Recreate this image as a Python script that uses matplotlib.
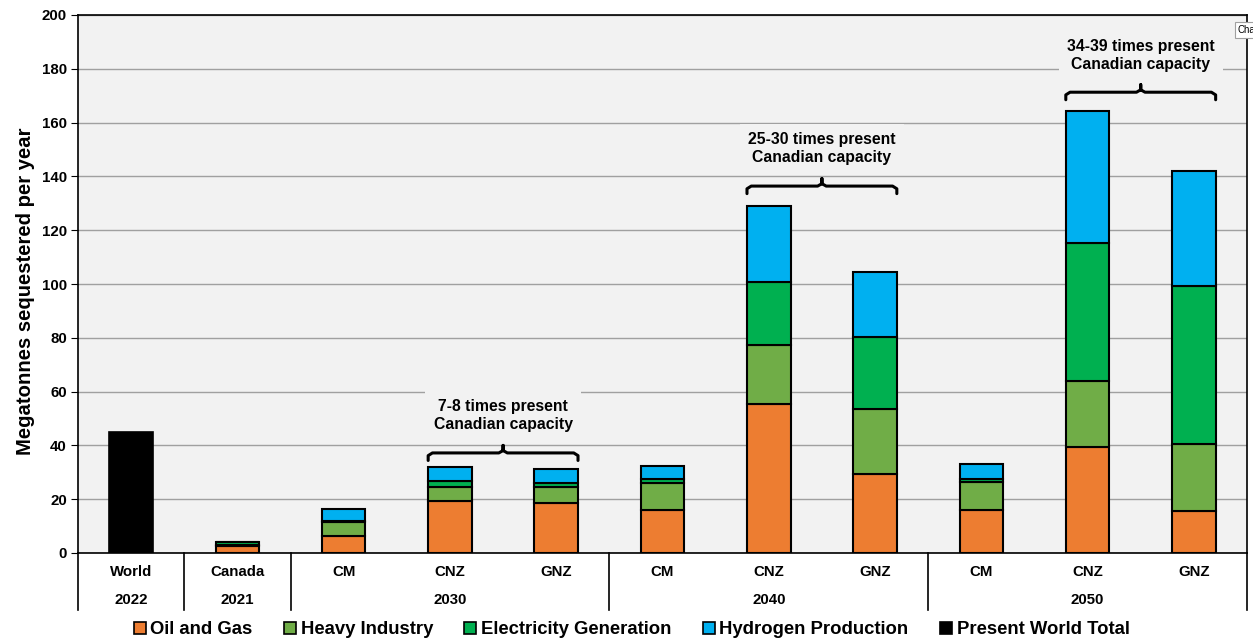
import numpy as np
import matplotlib
matplotlib.use("Agg")
import matplotlib.pyplot as plt
from matplotlib.patches import Patch
from matplotlib.transforms import blended_transform_factory

plt.rcParams['font.family'] = ['Liberation Sans', 'DejaVu Sans']
plt.rcParams['font.weight'] = 'bold'
plt.rcParams['axes.labelweight'] = 'bold'

# data (Mt CO2 sequestered per year)
categories = ['World', 'Canada', 'CM', 'CNZ', 'GNZ', 'CM', 'CNZ', 'GNZ', 'CM', 'CNZ', 'GNZ']
year_labels = ['2022', '2021', '2030', '2040', '2050']
year_pos = [0, 1, 3, 6, 9]
separators = [-0.5, 0.5, 1.5, 4.5, 7.5, 10.5]

world_total = 45.0
oil_gas = [2.7, 6.5, 19.4, 18.5, 15.8, 55.5, 29.4, 16.0, 39.5, 15.7]
heavy_industry = [0.3, 5.0, 5.3, 6.0, 10.4, 22.0, 24.1, 10.4, 24.3, 24.8]
electricity = [1.0, 0.3, 2.0, 1.5, 1.2, 23.4, 26.7, 1.1, 51.5, 58.9]
hydrogen = [0.2, 4.5, 5.2, 5.3, 4.8, 28.1, 24.1, 5.6, 48.9, 42.6]

series = ['Oil and Gas', 'Heavy Industry', 'Electricity Generation', 'Hydrogen Production']
colors = ['#ED7D31', '#70AD47', '#00B050', '#00B0F0']

# brackets: (left cat, right cat, y level, text)
brackets = [
    (3, 4, 37.2, '7-8 times present\nCanadian capacity'),
    (6, 7, 136.4, '25-30 times present\nCanadian capacity'),
    (9, 10, 171.3, '34-39 times present\nCanadian capacity'),
]

bg = '#F2F2F2'
fig = plt.figure(figsize=(12.53, 6.40), dpi=100)
ax = fig.add_axes([78 / 1253, 87 / 640, 1169 / 1253, 538 / 640])
ax.set_facecolor(bg)

w = 0.41
x = np.arange(len(categories))
ax.bar(0, world_total, w, color='black', edgecolor='black', lw=1.2, zorder=3)

bottom = np.zeros(len(oil_gas))
for vals, col in zip([oil_gas, heavy_industry, electricity, hydrogen], colors):
    ax.bar(x[1:], vals, w, bottom=bottom, color=col, edgecolor='black', lw=1.5, zorder=3)
    bottom += np.array(vals)

ax.set_xlim(-0.5, 10.5)
ax.set_ylim(0, 200)
ax.set_yticks(np.arange(0, 201, 20))
ax.tick_params(axis='y', labelsize=10.8, length=5, direction='out', pad=3)
ax.set_xticks([])
ax.yaxis.grid(True, color='#A0A0A0', lw=1, zorder=0)
for s in ax.spines.values():
    s.set_color('black')
    s.set_linewidth(1.2)
ax.set_ylabel('Megatonnes sequestered per year', fontsize=14.6)
ax.yaxis.set_label_coords(-0.037, 0.486)

# category table below axis
tr = blended_transform_factory(ax.transData, ax.transAxes)
for i, c in enumerate(categories):
    ax.text(i, -0.036, c, transform=tr, ha='center', va='center', fontsize=10.8, clip_on=False)
for p, yl in zip(year_pos, year_labels):
    ax.text(p, -0.088, yl, transform=tr, ha='center', va='center', fontsize=10.8, clip_on=False)
for sx in separators:
    ax.plot([sx, sx], [0, -0.106], transform=tr, color='black', lw=1.2, clip_on=False)

# braces with annotations
for l, r, yb, txt in brackets:
    x0, x1 = l - w / 2, r + w / 2
    xm = (x0 + x1) / 2
    d = 0.04
    ax.plot([x0, x0, x0 + d, xm - d, xm, xm, xm, xm + d, x1 - d, x1, x1],
            [yb - 2.8, yb - 1.0, yb, yb, yb + 0.9, yb + 2.8, yb + 0.9, yb, yb, yb - 1.0, yb - 2.8],
            color='black', lw=2.2, zorder=4, solid_joinstyle='round', solid_capstyle='round')
    ax.text(xm, yb + 13.8, txt, ha='center', va='center', fontsize=11.3, linespacing=1.25,
            zorder=4, bbox=dict(facecolor=bg, edgecolor='none', pad=6))

handles = [Patch(facecolor=c, edgecolor='black', lw=1.2) for c in colors]
handles.append(Patch(facecolor='black', edgecolor='black', lw=1.2))
labels = series + ['Present World Total']
fig.legend(handles, labels, loc='center', bbox_to_anchor=(0.504, 0.016), ncol=5, frameon=False,
           fontsize=13.3, handlelength=0.65, handleheight=0.65, handletextpad=0.25,
           columnspacing=1.7, borderpad=0)

fig.text(0.988, 0.953, 'Cha', fontsize=7, weight='normal', ha='left', va='center',
         bbox=dict(facecolor='white', edgecolor='#A0A0A0', pad=2, lw=0.8))

fig.savefig('out.png', dpi=100)
